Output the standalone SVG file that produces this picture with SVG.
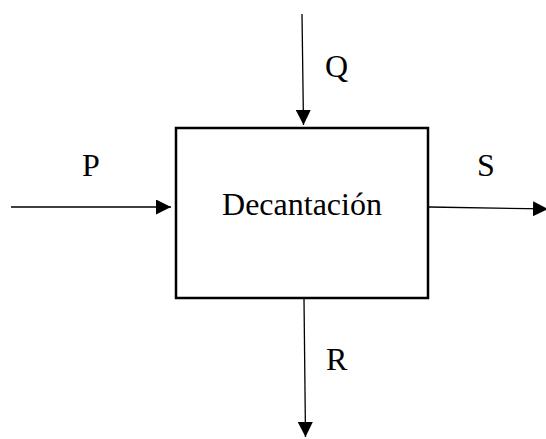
<svg xmlns="http://www.w3.org/2000/svg" width="546" height="439" viewBox="0 0 546 439">
<style>
.lbl{font-family:"Liberation Serif","Times New Roman",serif;font-size:32px;fill:#000}
.ln{stroke:#000;stroke-width:1.3;fill:none}
</style>
<defs>
<marker id="ah" viewBox="0 0 10 10" refX="10" refY="5" markerWidth="15" markerHeight="15" markerUnits="userSpaceOnUse" orient="auto">
<path d="M0,0 L10,5 L0,10 Z" fill="#000"/>
</marker>
</defs>
<rect width="546" height="439" fill="#fff"/>
<g id="decantacion">
<rect x="176" y="128" width="252" height="170" fill="#fff" stroke="#000" stroke-width="2.5"/>
<text class="lbl" x="302" y="215" text-anchor="middle">Decantación</text>
</g>
<g id="connectors">
<line class="ln" x1="11" y1="207" x2="171" y2="207" marker-end="url(#ah)"/>
<line class="ln" x1="302" y1="14" x2="303.5" y2="125" marker-end="url(#ah)"/>
<line class="ln" x1="429" y1="207" x2="548" y2="209" marker-end="url(#ah)"/>
<line class="ln" x1="304" y1="299" x2="305.5" y2="437" marker-end="url(#ah)"/>
</g>
<g id="labels">
<text class="lbl" x="82" y="176">P</text>
<text class="lbl" x="325" y="77">Q</text>
<text class="lbl" x="477" y="176">S</text>
<text class="lbl" x="326" y="370">R</text>
</g>
</svg>
